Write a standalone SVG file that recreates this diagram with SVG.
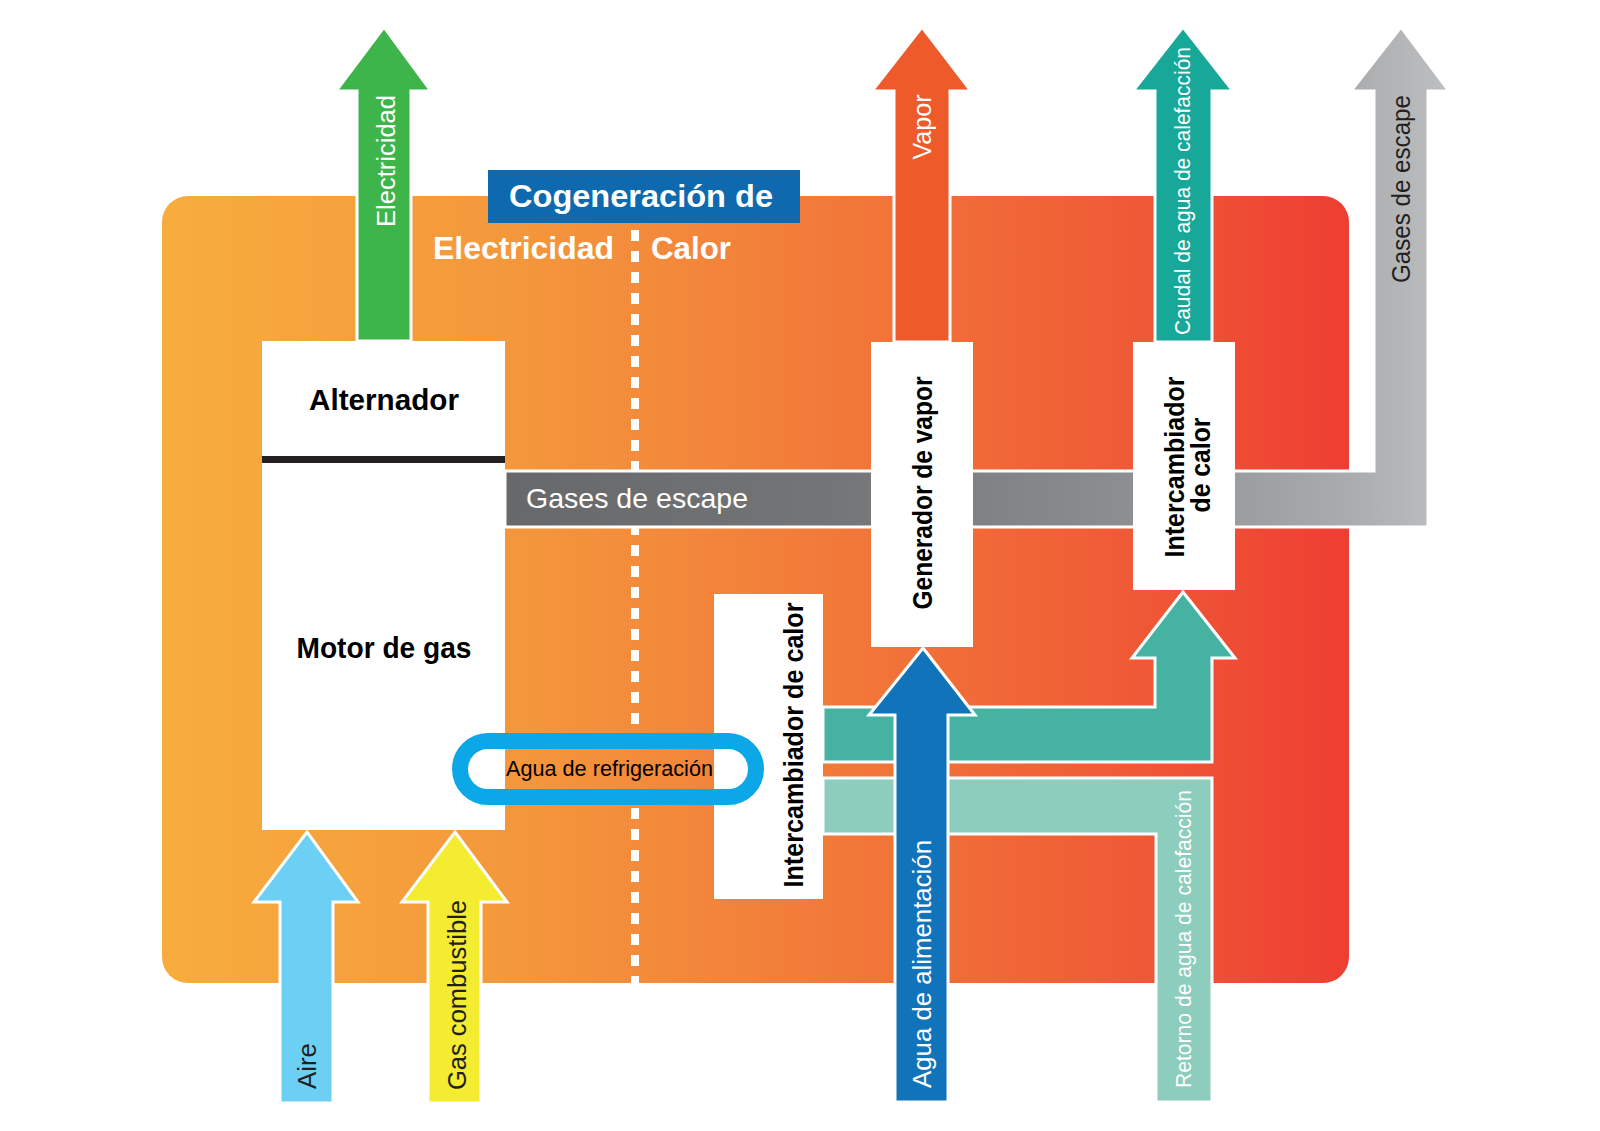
<svg xmlns="http://www.w3.org/2000/svg" width="1600" height="1131" viewBox="0 0 1600 1131">
<defs>
<linearGradient id="bgGrad" gradientUnits="userSpaceOnUse" x1="163" y1="0" x2="1349" y2="0">
<stop offset="0" stop-color="#F7AD3D"/>
<stop offset="0.3" stop-color="#F4973C"/>
<stop offset="0.55" stop-color="#F27B39"/>
<stop offset="0.8" stop-color="#EF5C36"/>
<stop offset="1" stop-color="#EE3E33"/>
</linearGradient>
<linearGradient id="greyGrad" gradientUnits="userSpaceOnUse" x1="505" y1="0" x2="1449" y2="0">
<stop offset="0" stop-color="#67686A"/>
<stop offset="0.35" stop-color="#737577"/>
<stop offset="0.65" stop-color="#8B8D8F"/>
<stop offset="0.9" stop-color="#AAACAE"/>
<stop offset="1" stop-color="#BDBFC1"/>
</linearGradient>
<style>
.arrow{stroke:#fff;stroke-width:3;stroke-linejoin:miter}
.box{fill:#fff}
.lbl{font-family:"Liberation Sans",Arial,sans-serif;font-weight:bold;fill:#000}
.flow{font-family:"Liberation Sans",Arial,sans-serif;fill:#fff}
.dark{fill:#231F20}
.title{font-family:"Liberation Sans",Arial,sans-serif;font-weight:bold;fill:#fff;font-size:31px}
</style>
</defs>
<rect width="1600" height="1131" fill="#fff"/>
<rect id="background" x="162" y="196" width="1187" height="787" rx="26" fill="url(#bgGrad)"/>
<g id="divider" stroke="#fff" stroke-width="8" stroke-dasharray="11 10" fill="none">
<line x1="635" y1="230" x2="635" y2="733"/>
<line x1="635" y1="808" x2="635" y2="983"/>
</g>
<g id="connectors">
<polygon id="electricidad" class="arrow" fill="#3DB54A" points="357,341 357,91 336,91 384,27 431,91 411,91 411,341"/>
<polygon id="vapor" class="arrow" fill="#EE5A29" points="894,342 894,91 872,91 922,27 971,91 950,91 950,342"/>
<polygon id="caudal" class="arrow" fill="#17A89A" points="1155,342 1155,91 1133,91 1183,27 1233,91 1212,91 1212,342"/>
<polygon id="gases" class="arrow" fill="url(#greyGrad)" points="505,471 1374,471 1374,91 1351,91 1401,27 1449,91 1428,91 1428,527 505,527"/>
<polygon id="aire" class="arrow" fill="#6CCFF4" points="280,1103 280,902 254,902 307,832 358,902 333,902 333,1103"/>
<polygon id="gascomb" class="arrow" fill="#F3EC31" points="428,1103 428,902 402,902 455,832 507,902 481,902 481,1103"/>
<polygon id="suministro" class="arrow" fill="#45B2A2" points="823,707 1155,707 1155,658 1132,658 1183,592 1235,658 1212,658 1212,762 823,762"/>
<polygon id="retorno" class="arrow" fill="#8DCDBD" points="823,778 1212,778 1212,1102 1156,1102 1156,834 823,834"/>
<polygon id="alimentacion" class="arrow" fill="#1173BA" points="895,1102 895,715 869,715 923,648 975,715 948,715 948,1102"/>
</g>
<g id="node-motor">
<rect class="box" x="262" y="341" width="243" height="489"/>
<rect x="262" y="456" width="243" height="7" fill="#231F20"/>
<text class="lbl" x="384" y="410" font-size="29" text-anchor="middle" textLength="150" lengthAdjust="spacingAndGlyphs">Alternador</text>
<text class="lbl" x="384" y="658" font-size="29" text-anchor="middle" textLength="175" lengthAdjust="spacingAndGlyphs">Motor de gas</text>
</g>
<g id="node-generador">
<rect class="box" x="871" y="342" width="102" height="305"/>
<text class="lbl" transform="translate(932,493) rotate(-90)" font-size="28" text-anchor="middle" textLength="233" lengthAdjust="spacingAndGlyphs">Generador de vapor</text>
</g>
<g id="node-intercambiador2">
<rect class="box" x="1133" y="342" width="102" height="248"/>
<text class="lbl" transform="translate(1184,467) rotate(-90)" font-size="27" text-anchor="middle" textLength="181" lengthAdjust="spacingAndGlyphs">Intercambiador</text>
<text class="lbl" transform="translate(1210,465) rotate(-90)" font-size="27" text-anchor="middle" textLength="95" lengthAdjust="spacingAndGlyphs">de calor</text>
</g>
<g id="node-intercambiador1">
<rect class="box" x="714" y="594" width="109" height="305"/>
<text class="lbl" transform="translate(803,745) rotate(-90)" font-size="27" text-anchor="middle" textLength="285" lengthAdjust="spacingAndGlyphs">Intercambiador de calor</text>
</g>
<g id="node-refrigeracion">
<rect x="460" y="741" width="296" height="56" rx="28" fill="none" stroke="#0BA7E6" stroke-width="16"/>
<text class="lbl" x="506" y="776" font-size="22" textLength="207" lengthAdjust="spacingAndGlyphs" style="font-weight:normal">Agua de refrigeración</text>
</g>
<g id="title">
<rect x="488" y="170" width="312" height="53" fill="#0E69AF"/>
<text class="title" x="509" y="207" textLength="264" lengthAdjust="spacingAndGlyphs">Cogeneración de</text>
<text class="title" x="433" y="259" font-size="32" style="font-size:32px" textLength="181" lengthAdjust="spacingAndGlyphs">Electricidad</text>
<text class="title" x="651" y="259" style="font-size:32px" textLength="80" lengthAdjust="spacingAndGlyphs">Calor</text>
</g>
<g id="flow-labels">
<text class="flow" transform="translate(395,161) rotate(-90)" font-size="26" text-anchor="middle" textLength="132" lengthAdjust="spacingAndGlyphs">Electricidad</text>
<text class="flow" transform="translate(931,127) rotate(-90)" font-size="26" text-anchor="middle" textLength="65" lengthAdjust="spacingAndGlyphs">Vapor</text>
<text class="flow" transform="translate(1190,191) rotate(-90)" font-size="22" text-anchor="middle" textLength="288" lengthAdjust="spacingAndGlyphs">Caudal de agua de calefacción</text>
<text class="flow dark" transform="translate(1410,189) rotate(-90)" font-size="26" text-anchor="middle" textLength="188" lengthAdjust="spacingAndGlyphs">Gases de escape</text>
<text class="flow" x="526" y="508" font-size="28" textLength="222" lengthAdjust="spacingAndGlyphs">Gases de escape</text>
<text class="flow dark" transform="translate(316,1066) rotate(-90)" font-size="26" text-anchor="middle" textLength="46" lengthAdjust="spacingAndGlyphs">Aire</text>
<text class="flow dark" transform="translate(466,995) rotate(-90)" font-size="26" text-anchor="middle" textLength="190" lengthAdjust="spacingAndGlyphs">Gas combustible</text>
<text class="flow" transform="translate(931,964) rotate(-90)" font-size="26" text-anchor="middle" textLength="248" lengthAdjust="spacingAndGlyphs">Agua de alimentación</text>
<text class="flow" transform="translate(1191,939) rotate(-90)" font-size="22" text-anchor="middle" textLength="298" lengthAdjust="spacingAndGlyphs">Retorno de agua de calefacción</text>
</g>
</svg>
